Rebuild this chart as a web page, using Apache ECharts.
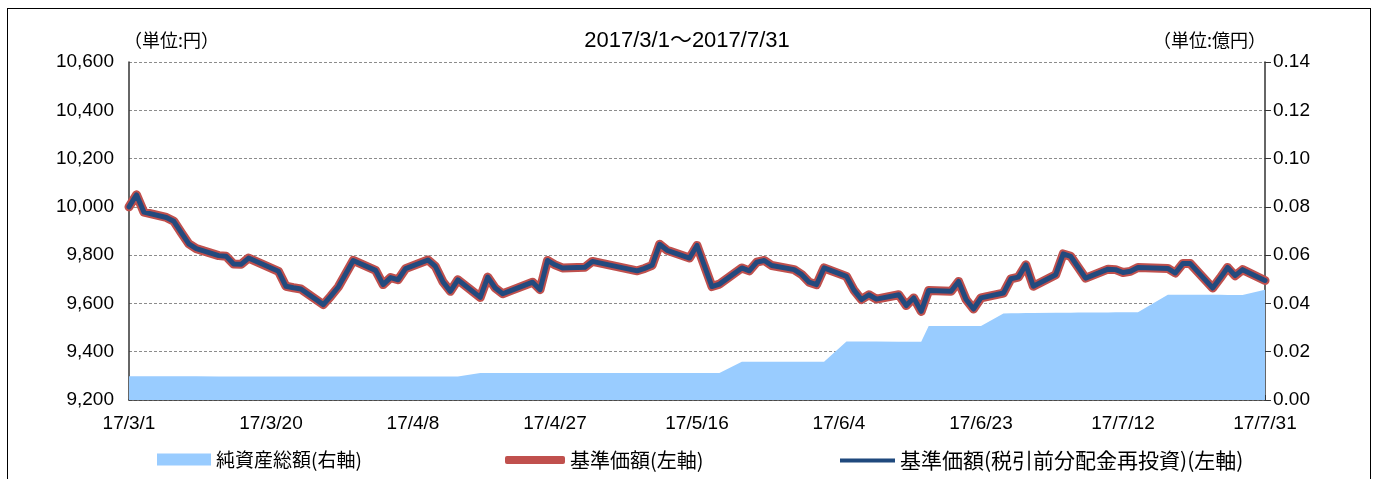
<!DOCTYPE html>
<html>
<head>
<meta charset="utf-8">
<script src="https://cdn.jsdelivr.net/npm/echarts@6/dist/echarts.min.js"></script>
<style>
html,body{margin:0;padding:0;background:#fff;}
#frame{position:absolute;left:7px;top:8px;width:1364px;height:480px;border:1px solid #000;box-sizing:border-box;}
#chart{position:absolute;left:0;top:0;width:1374px;height:479px;}
</style>
</head>
<body>
<div id="frame"></div>
<div id="chart"></div>
<script>
// ---- data ----
const startDate = '2017-03-01';
const endDate = '2017-07-31';
const tickLabels = ['17/3/1','17/3/20','17/4/8','17/4/27','17/5/16','17/6/4','17/6/23','17/7/12','17/7/31'];
const dates = [
 '2017-03-01','2017-03-02','2017-03-03','2017-03-06','2017-03-07','2017-03-08','2017-03-09','2017-03-10',
 '2017-03-13','2017-03-14','2017-03-15','2017-03-16','2017-03-17','2017-03-21','2017-03-22','2017-03-23',
 '2017-03-24','2017-03-27','2017-03-28','2017-03-29','2017-03-30','2017-03-31',
 '2017-04-03','2017-04-04','2017-04-05','2017-04-06','2017-04-07','2017-04-10','2017-04-11','2017-04-12',
 '2017-04-13','2017-04-14','2017-04-17','2017-04-18','2017-04-19','2017-04-20','2017-04-21','2017-04-24',
 '2017-04-25','2017-04-26','2017-04-27','2017-04-28',
 '2017-05-01','2017-05-02','2017-05-08','2017-05-09','2017-05-10','2017-05-11','2017-05-12','2017-05-15',
 '2017-05-16','2017-05-17','2017-05-18','2017-05-19','2017-05-22','2017-05-23','2017-05-24','2017-05-25',
 '2017-05-26','2017-05-29','2017-05-30','2017-05-31',
 '2017-06-01','2017-06-02','2017-06-05','2017-06-06','2017-06-07','2017-06-08','2017-06-09','2017-06-12',
 '2017-06-13','2017-06-14','2017-06-15','2017-06-16','2017-06-19','2017-06-20','2017-06-21','2017-06-22',
 '2017-06-23','2017-06-26','2017-06-27','2017-06-28','2017-06-29','2017-06-30',
 '2017-07-03','2017-07-04','2017-07-05','2017-07-06','2017-07-07','2017-07-10','2017-07-11','2017-07-12',
 '2017-07-13','2017-07-14','2017-07-18','2017-07-19','2017-07-20','2017-07-21','2017-07-24','2017-07-25',
 '2017-07-26','2017-07-27','2017-07-28','2017-07-31'
];
const nav = [
 10000,10050,9978,9956,9940,9893,9847,9827,9798,9795,9763,9762,9788,9733,9671,9665,9660,9595,9630,9668,9723,9778,
 9737,9678,9707,9698,9744,9780,9753,9690,9650,9698,9625,9709,9664,9640,9652,9688,9657,9778,9760,9747,
 9750,9774,9735,9745,9758,9845,9820,9788,9840,9755,9670,9680,9747,9735,9771,9778,9757,9740,9720,9688,
 9678,9747,9712,9655,9616,9636,9618,9636,9591,9623,9567,9654,9650,9691,9616,9577,9623,9643,9702,9709,9760,9671,
 9719,9805,9795,9750,9705,9742,9740,9728,9733,9749,9745,9726,9765,9765,9664,9705,9749,9715,9740,9695
];
const navReinvest = nav.slice();
const netAssets = [
 0.0098,0.0098,0.0098,0.0098,0.0098,0.0098,0.0098,0.0098,0.0097,0.0097,0.0097,0.0097,0.0097,0.0097,0.0097,0.0097,0.0097,0.0097,0.0097,0.0097,0.0097,0.0097,
 0.0097,0.0097,0.0097,0.0097,0.0097,0.0097,0.0097,0.0097,0.0097,0.0097,0.0112,0.0112,0.0112,0.0112,0.0112,0.0112,0.0112,0.0112,0.0112,0.0112,
 0.0112,0.0112,0.0112,0.0112,0.0112,0.0112,0.0112,0.0112,0.0112,0.0112,0.0112,0.0112,0.0158,0.0158,0.0158,0.0158,0.0158,0.0158,0.0158,0.0158,
 0.0158,0.0158,0.0242,0.0242,0.0242,0.0242,0.0242,0.0241,0.0241,0.0241,0.0241,0.0307,0.0307,0.0307,0.0307,0.0307,0.0307,0.0358,0.0359,0.0359,0.0360,0.0360,
 0.0361,0.0361,0.0361,0.0362,0.0362,0.0362,0.0363,0.0363,0.0363,0.0363,0.0436,0.0436,0.0436,0.0436,0.0436,0.0436,0.0435,0.0435,0.0435,0.0457
];
const seriesNames = ['純資産総額(右軸)','基準価額(左軸)','基準価額(税引前分配金再投資)(左軸)'];
const titleText = '2017/3/1～2017/7/31';
const leftUnit = '（単位:円）';
const rightUnit = '（単位:億円）';

// ---- build ----
const DAY = 86400000;
const t0 = Date.parse(startDate);
const totalDays = Math.round((Date.parse(endDate) - t0) / DAY);
const dayIdx = dates.map(d => Math.round((Date.parse(d) - t0) / DAY));
const pairs = arr => arr.map((v, i) => [dayIdx[i], v]);
const step = totalDays / (tickLabels.length - 1);

const FONT = "'Liberation Sans', 'Noto Sans CJK JP', sans-serif";
const JFONT = "'Noto Sans CJK JP', sans-serif";

const chart = echarts.init(document.getElementById('chart'), null, {renderer: 'canvas'});
chart.setOption({
  animation: false,
  backgroundColor: 'transparent',
  grid: {left: 129, right: 109, top: 62, bottom: 79, containLabel: false},
  xAxis: {
    type: 'value', min: 0, max: totalDays, interval: step,
    axisLine: {show: true, lineStyle: {color: '#333', width: 1.5}},
    axisTick: {show: true, inside: true, length: 5, lineStyle: {color: '#333'}},
    splitLine: {show: false},
    axisLabel: {
      color: '#000', fontSize: 19, fontFamily: FONT, margin: 14,
      formatter: v => tickLabels[Math.round(v / step)] || ''
    }
  },
  yAxis: [
    {
      type: 'value', min: 9200, max: 10600, interval: 200,
      axisLine: {show: true, lineStyle: {color: '#333', width: 1.5}},
      axisTick: {show: false},
      splitLine: {show: true, lineStyle: {color: '#8c8c8c', type: [3, 2], width: 1}},
      axisLabel: {color: '#000', fontSize: 19, fontFamily: FONT, margin: 15,
        formatter: v => v.toLocaleString('en-US')}
    },
    {
      type: 'value', min: 0, max: 0.14, interval: 0.02,
      axisLine: {show: true, lineStyle: {color: '#333', width: 1.5}},
      axisTick: {show: true, inside: false, length: 6, lineStyle: {color: '#333'}},
      splitLine: {show: false},
      axisLabel: {color: '#000', fontSize: 19, fontFamily: FONT, margin: 8,
        formatter: v => v.toFixed(2)}
    }
  ],
  legend: [
    {data: [{name: seriesNames[0], icon: 'rect', itemStyle: {color: '#99CCFF'}}],
      left: 152, top: 445, itemWidth: 54, itemHeight: 12, itemGap: 3,
      textStyle: {fontSize: 19, fontFamily: JFONT, color: '#000'}},
    {data: [{name: seriesNames[1], icon: 'roundRect', itemStyle: {color: '#C0504D'}}],
      left: 500, top: 445, itemWidth: 60, itemHeight: 8, itemGap: 3,
      textStyle: {fontSize: 20, fontFamily: JFONT, color: '#000'}},
    {data: [{name: seriesNames[2], icon: 'rect', itemStyle: {color: '#1F497D'}}],
      left: 835, top: 445, itemWidth: 55, itemHeight: 4, itemGap: 3,
      textStyle: {fontSize: 21, fontFamily: JFONT, color: '#000'}}
  ],
  graphic: [
    {type: 'text', left: 124, top: 31, style: {text: leftUnit, font: "18px " + JFONT, fill: '#000'}},
    {type: 'text', left: 'center', top: 30, style: {text: titleText, font: "22px " + FONT, fill: '#000'}},
    {type: 'text', right: 108, top: 31, style: {text: rightUnit, font: "18px " + JFONT, fill: '#000'}}
  ],
  series: [
    {
      name: seriesNames[0], type: 'line', yAxisIndex: 1, data: pairs(netAssets),
      symbol: 'none', lineStyle: {width: 0, color: '#99CCFF'},
      itemStyle: {color: '#99CCFF'},
      areaStyle: {color: '#99CCFF', opacity: 1}, z: 1
    },
    {
      name: seriesNames[1], type: 'line', yAxisIndex: 0, data: pairs(nav),
      symbol: 'none', lineStyle: {width: 9, color: '#C0504D', join: 'round', cap: 'round'},
      itemStyle: {color: '#C0504D'}, z: 2
    },
    {
      name: seriesNames[2], type: 'line', yAxisIndex: 0, data: pairs(navReinvest),
      symbol: 'none', lineStyle: {width: 5, color: '#234A7E', join: 'round', cap: 'round'},
      itemStyle: {color: '#234A7E'}, z: 3
    }
  ]
});
</script>
</body>
</html>
